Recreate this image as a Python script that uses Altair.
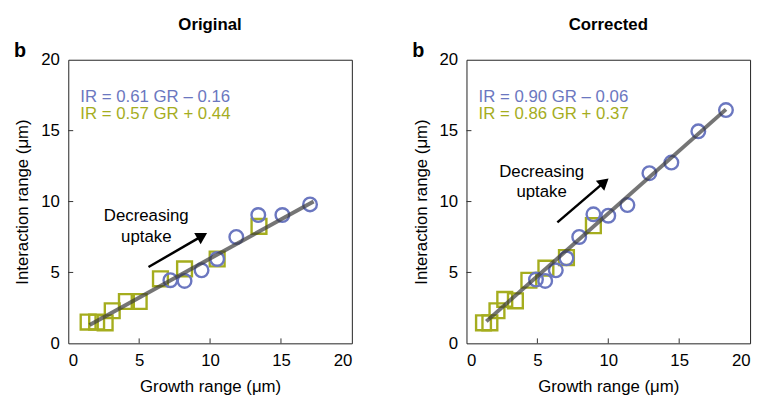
import altair as alt
import pandas as pd

# ---- data ----
orig_circle_x = [7.2, 8.2, 9.4, 10.5, 11.85, 13.4, 15.1, 17.05]
orig_circle_y = [4.45, 4.4, 5.15, 5.95, 7.5, 9.05, 9.05, 9.8]
orig_square_x = [1.4, 2.0, 2.6, 3.1, 4.1, 5.0, 6.5, 8.2, 10.5, 13.45]
orig_square_y = [1.5, 1.5, 1.45, 2.3, 2.95, 2.95, 4.55, 5.25, 5.95, 8.25]
orig_fit_x = [1.5, 17.3]
orig_fit_y = [1.3, 10.0]
orig_arrow_x = [5.66, 9.45]
orig_arrow_y = [5.38, 7.58]

corr_circle_x = [4.9, 5.55, 6.3, 7.05, 7.95, 8.95, 10.0, 11.35, 12.9, 14.45, 16.35, 18.3]
corr_circle_y = [4.5, 4.4, 5.15, 6.0, 7.5, 9.1, 9.0, 9.75, 12.0, 12.75, 14.95, 16.45]
corr_square_x = [1.2, 1.65, 2.15, 2.7, 3.45, 4.4, 5.6, 7.05, 8.95]
corr_square_y = [1.45, 1.45, 2.3, 3.1, 3.0, 4.45, 5.3, 6.05, 8.3]
corr_fit_x = [1.4, 18.3]
corr_fit_y = [1.55, 16.5]
corr_arrow_x = [6.41, 9.72]
corr_arrow_y = [8.53, 11.37]

orig_eq = ["IR = 0.61 GR \u2013 0.16", "IR = 0.57 GR + 0.44"]
corr_eq = ["IR = 0.90 GR \u2013 0.06", "IR = 0.86 GR + 0.37"]
eq_x = 0.85
eq_y = [17.4, 16.15]
orig_label_pos = (5.5, [9.0, 7.5])
corr_label_pos = (5.3, [12.1, 10.7])
label_text = ["Decreasing", "uptake"]
tick_values = [5, 10, 15]

BLUE = "#6b77c0"
OLIVE = "#a5ad1e"
FONT = "Liberation Sans"
W = 287
H = 287


def panel(title, cx, cy, sx, sy, fx, fy, ax, ay, head_angle, eqs, lab_pos):
    xs = alt.Scale(domain=[0, 20], nice=False, zero=False)
    ys = alt.Scale(domain=[0, 20], nice=False, zero=False)
    xax = alt.Axis(values=[0, 5, 10, 15, 20], title="Growth range (\u03bcm)", ticks=False,
                   domain=False, grid=False, labelPadding=9, titlePadding=11,
                   labelFontSize=17, titleFontSize=17, labelFont=FONT, titleFont=FONT,
                   labelColor="black", titleColor="black", titleFontWeight="normal")
    yax = alt.Axis(values=[0, 5, 10, 15, 20], title="Interaction range (\u03bcm)", ticks=False,
                   domain=False, grid=False, labelPadding=9, titlePadding=9,
                   labelFontSize=17, titleFontSize=17, labelFont=FONT, titleFont=FONT,
                   labelColor="black", titleColor="black", titleFontWeight="normal")

    circ = pd.DataFrame({"x": cx, "y": cy})
    sq = pd.DataFrame({"x": sx, "y": sy})
    fit = pd.DataFrame({"x": fx, "y": fy})
    arr = pd.DataFrame({"x": [ax[0]], "y": [ay[0]], "x2": [ax[1]], "y2": [ay[1]]})
    head = pd.DataFrame({"x": [ax[1]], "y": [ay[1]]})
    eq = pd.DataFrame({"x": [eq_x, eq_x], "y": eq_y, "t": eqs, "c": [BLUE, OLIVE]})
    lab = pd.DataFrame({"x": [lab_pos[0]] * 2, "y": lab_pos[1], "t": label_text})
    tk = pd.DataFrame({"v": tick_values})

    base_x = alt.X("x:Q", scale=xs, axis=xax)
    base_y = alt.Y("y:Q", scale=ys, axis=yax)

    squares = alt.Chart(sq).mark_point(shape="square", size=225, filled=False,
                                       strokeWidth=2.4, color=OLIVE, opacity=1).encode(x=base_x, y=base_y)
    circles = alt.Chart(circ).mark_point(shape="circle", size=190, filled=False,
                                         strokeWidth=2.4, color=BLUE, opacity=1).encode(
        x=alt.X("x:Q", scale=xs), y=alt.Y("y:Q", scale=ys))
    line = alt.Chart(fit).mark_line(color="#3a3a3a", strokeWidth=4, opacity=0.7).encode(
        x=alt.X("x:Q", scale=xs), y=alt.Y("y:Q", scale=ys))
    arrow = alt.Chart(arr).mark_rule(color="black", strokeWidth=2.5).encode(
        x=alt.X("x:Q", scale=xs), y=alt.Y("y:Q", scale=ys), x2="x2:Q", y2="y2:Q")
    arrowhead = alt.Chart(head).mark_point(shape="triangle-up", size=170, filled=True,
                                           color="black", opacity=1, angle=head_angle).encode(
        x=alt.X("x:Q", scale=xs), y=alt.Y("y:Q", scale=ys))
    eqtext = alt.Chart(eq).mark_text(align="left", baseline="middle", fontSize=17, font=FONT).encode(
        x=alt.X("x:Q", scale=xs), y=alt.Y("y:Q", scale=ys), text="t:N",
        color=alt.Color("c:N", scale=None))
    labtext = alt.Chart(lab).mark_text(align="center", baseline="middle", fontSize=17, font=FONT,
                                       color="black").encode(
        x=alt.X("x:Q", scale=xs), y=alt.Y("y:Q", scale=ys), text="t:N")
    xticks = alt.Chart(tk).mark_rule(color="#333", strokeWidth=1).encode(
        x=alt.X("v:Q", scale=xs), y=alt.value(H), y2=alt.value(H - 5))
    yticks = alt.Chart(tk).mark_rule(color="#333", strokeWidth=1).encode(
        y=alt.Y("v:Q", scale=ys), x=alt.value(0), x2=alt.value(5))
    bmark = alt.Chart(pd.DataFrame({"t": ["b"]})).mark_text(
        align="left", baseline="alphabetic", fontSize=20, fontWeight="bold", font=FONT,
        color="black").encode(x=alt.value(-55), y=alt.value(-3), text="t:N")

    return alt.layer(squares, circles, line, arrow, arrowhead, eqtext, labtext,
                     xticks, yticks, bmark).properties(
        width=W, height=H,
        title=alt.TitleParams(title, fontSize=17, font=FONT, fontWeight="bold",
                              anchor="middle", offset=7, color="black"))


left = panel("Original", orig_circle_x, orig_circle_y, orig_square_x, orig_square_y,
             orig_fit_x, orig_fit_y, orig_arrow_x, orig_arrow_y, 60, orig_eq, orig_label_pos)
right = panel("Corrected", corr_circle_x, corr_circle_y, corr_square_x, corr_square_y,
              corr_fit_x, corr_fit_y, corr_arrow_x, corr_arrow_y, 49.5, corr_eq, corr_label_pos)

chart = alt.hconcat(left, right, spacing=59).configure_view(
    stroke="#222", strokeWidth=1).properties(background="white", padding=5)

chart.save("out.html", embed_options={"renderer": "svg", "actions": False})
